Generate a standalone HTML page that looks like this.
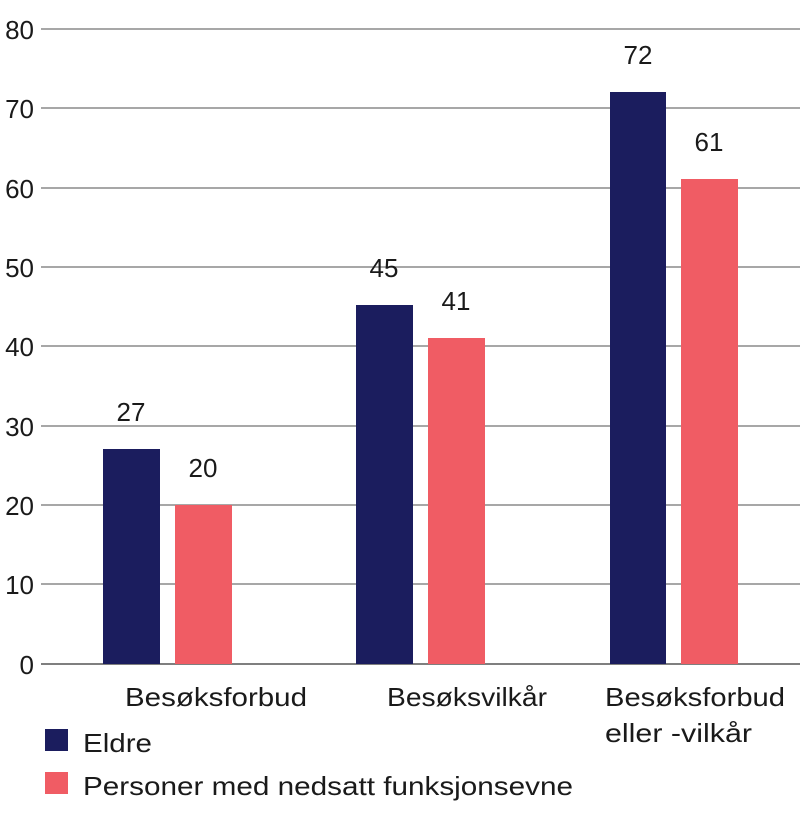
<!DOCTYPE html>
<html><head><meta charset="utf-8"><style>
body{margin:0;background:#fff;}
text{font-family:"Liberation Sans",sans-serif;fill:#1a1a1a;}
</style></head><body>
<svg width="800" height="819" viewBox="0 0 800 819" xmlns="http://www.w3.org/2000/svg">
<g stroke="#8a8a8a" stroke-width="1.5">
<line x1="41" x2="800" y1="29" y2="29"/>
<line x1="41" x2="800" y1="108" y2="108"/>
<line x1="41" x2="800" y1="188" y2="188"/>
<line x1="41" x2="800" y1="267" y2="267"/>
<line x1="41" x2="800" y1="346" y2="346"/>
<line x1="41" x2="800" y1="426" y2="426"/>
<line x1="41" x2="800" y1="505" y2="505"/>
<line x1="41" x2="800" y1="584" y2="584"/>
</g>
<line x1="41" x2="800" y1="664" y2="664" stroke="#555" stroke-width="1.5"/>
<g font-size="26" text-anchor="end">
<text x="34" y="39">80</text><text x="34" y="118">70</text><text x="34" y="198">60</text>
<text x="34" y="277">50</text><text x="34" y="356">40</text><text x="34" y="436">30</text>
<text x="34" y="515">20</text><text x="34" y="594">10</text><text x="34" y="674">0</text>
</g>
<g fill="#1b1d5e">
<rect x="103" y="449" width="57" height="215"/>
<rect x="356" y="305" width="57" height="359"/>
<rect x="610" y="92" width="56" height="572"/>
</g>
<g fill="#f05c64">
<rect x="175" y="505" width="57" height="159"/>
<rect x="428" y="338" width="57" height="326"/>
<rect x="681" y="179" width="57" height="485"/>
</g>
<g font-size="26" text-anchor="middle">
<text x="131" y="421">27</text><text x="203" y="477">20</text>
<text x="384" y="277">45</text><text x="456" y="310">41</text>
<text x="638" y="64">72</text><text x="709" y="151">61</text>
</g>
<g font-size="26">
<text x="125" y="706" textLength="182" lengthAdjust="spacingAndGlyphs">Besøksforbud</text>
<text x="387" y="706" textLength="160" lengthAdjust="spacingAndGlyphs">Besøksvilkår</text>
<text x="605" y="706" textLength="180" lengthAdjust="spacingAndGlyphs">Besøksforbud</text>
<text x="605" y="742" textLength="147" lengthAdjust="spacingAndGlyphs">eller -vilkår</text>
<text x="83" y="752" textLength="69" lengthAdjust="spacingAndGlyphs">Eldre</text>
<text x="83" y="795" textLength="490" lengthAdjust="spacingAndGlyphs">Personer med nedsatt funksjonsevne</text>
</g>
<rect x="45" y="729" width="23" height="22" fill="#1b1d5e"/>
<rect x="45" y="772" width="23" height="22" fill="#f05c64"/>
</svg>
</body></html>
